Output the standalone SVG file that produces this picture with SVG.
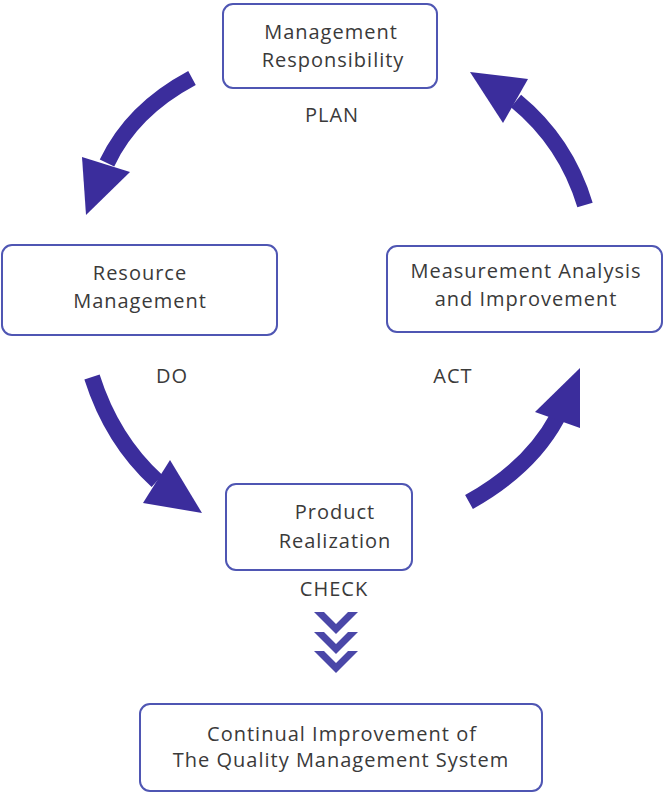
<svg xmlns="http://www.w3.org/2000/svg" width="664" height="798" viewBox="0 0 664 798">
<style>
.box{fill:#ffffff;stroke:#4f56b3;stroke-width:2}
.t{font-family:"Open Sans","Noto Sans",sans-serif;font-size:20px;letter-spacing:1px;fill:#3a3a3a;text-anchor:middle}
.shaft{fill:none;stroke:#3b2d9c;stroke-width:16}
.head{fill:#3b2d9c}
.chev{fill:#4a47a8}
</style>
<rect width="664" height="798" fill="#ffffff"/>
<g id="connectors">
<path class="shaft" d="M 192,78 Q 132,110 107,163"/>
<polygon class="head" points="82,157 130,172 86,215"/>
<path class="shaft" d="M 92,377 Q 112,440 157,481"/>
<polygon class="head" points="170,460 143,503 202,513"/>
<path class="shaft" d="M 469,502 Q 530,468 557,418"/>
<polygon class="head" points="535,412 580,428 580,368"/>
<path class="shaft" d="M 585,205 Q 566,142 516,101"/>
<polygon class="head" points="528,79 503,123 470,72"/>
<polygon class="chev" points="314,612 324,612 336,624 348,612 358,612 336,634"/>
<polygon class="chev" points="314,632 324,632 336,644 348,632 358,632 336,654"/>
<polygon class="chev" points="314,651 324,651 336,663 348,651 358,651 336,673"/>
</g>
<g id="node-management-responsibility">
<rect class="box" x="223" y="4" width="214" height="84" rx="10"/>
<text class="t" x="331" y="39">Management</text>
<text class="t" x="333" y="67">Responsibility</text>
</g>
<g id="label-plan"><text class="t" x="332" y="122">PLAN</text></g>
<g id="node-resource-management">
<rect class="box" x="2" y="245" width="275" height="90" rx="10"/>
<text class="t" x="140" y="280">Resource</text>
<text class="t" x="140" y="308">Management</text>
</g>
<g id="node-measurement-analysis">
<rect class="box" x="387" y="246" width="275" height="86" rx="10"/>
<text class="t" x="526" y="278">Measurement Analysis</text>
<text class="t" x="526" y="306">and Improvement</text>
</g>
<g id="label-do"><text class="t" x="172" y="383">DO</text></g>
<g id="label-act"><text class="t" x="453" y="383">ACT</text></g>
<g id="node-product-realization">
<rect class="box" x="226" y="484" width="186" height="86" rx="10"/>
<text class="t" x="335" y="519">Product</text>
<text class="t" x="335" y="548">Realization</text>
</g>
<g id="label-check"><text class="t" x="334" y="596">CHECK</text></g>
<g id="node-continual-improvement">
<rect class="box" x="140" y="704" width="402" height="87" rx="10"/>
<text class="t" x="342" y="741">Continual Improvement of</text>
<text class="t" x="341" y="767">The Quality Management System</text>
</g>
</svg>
